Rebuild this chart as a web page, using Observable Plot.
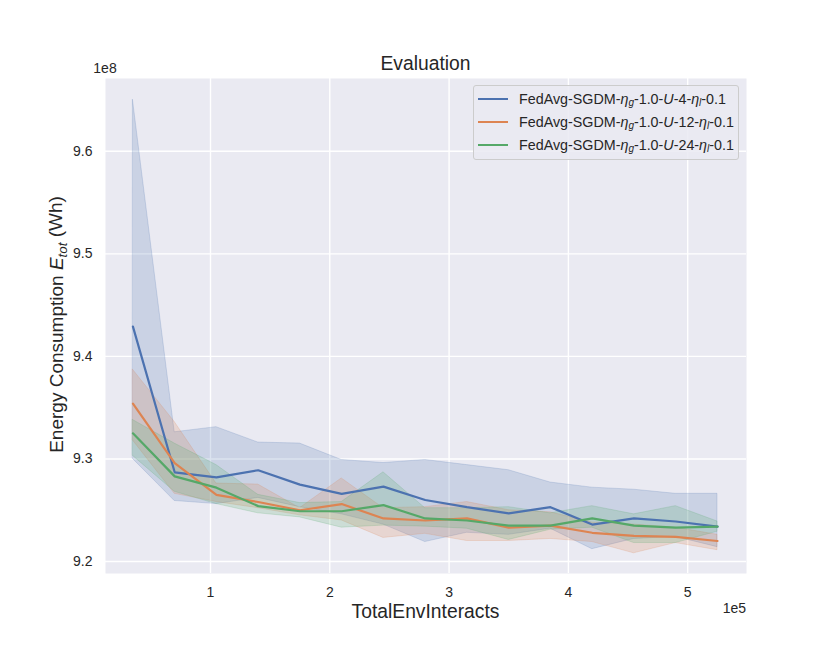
<!DOCTYPE html>
<html>
<head>
<meta charset="utf-8">
<script src="https://cdn.jsdelivr.net/npm/d3@7"></script>
<script src="https://cdn.jsdelivr.net/npm/@observablehq/plot@0.6"></script>
<style>
  html, body { margin: 0; padding: 0; background: #ffffff; }
  #wrap { position: relative; width: 830px; height: 646px; font-family: "Liberation Sans", Arial, sans-serif; color: #262626; }
  #legend { position: absolute; left: 473px; top: 85px; width: 266px; height: 75px; box-sizing: border-box;
    border: 1px solid #cccccc; border-radius: 3px; background: rgba(234,234,242,0.85); font-size: 14.3px; }
  .entry { position: absolute; left: 0; height: 20px; width: 100%; }
  .entry .sw { position: absolute; left: 4px; width: 30px; top: 10px; height: 0; border-top: 2px solid; }
  .entry .lb { position: absolute; left: 45px; top: 1px; white-space: nowrap; line-height: 20px; }
  .entry sub { font-size: 10px; vertical-align: -2px; line-height: 0; }
</style>
</head>
<body>
<div id="wrap"></div>
<script>
// x values in units of 1e5 TotalEnvInteracts
const xs = [0.35, 0.7, 1.05, 1.4, 1.75, 2.1, 2.45, 2.8, 3.15, 3.5, 3.85, 4.2, 4.55, 4.9, 5.25];

// y values in units of 1e8 Wh
const seriesNames = ["U-4", "U-12", "U-24"];
const seriesColors = ["#4C72B0", "#DD8452", "#55A868"];

const u4Mean = [9.429, 9.287, 9.282, 9.289, 9.275, 9.266, 9.273, 9.260, 9.253, 9.247, 9.253, 9.236, 9.242, 9.239, 9.234];
const u4Hi   = [9.650, 9.326, 9.331, 9.316, 9.315, 9.299, 9.296, 9.299, 9.294, 9.289, 9.277, 9.272, 9.270, 9.266, 9.266];
const u4Lo   = [9.300, 9.259, 9.256, 9.262, 9.253, 9.246, 9.236, 9.219, 9.228, 9.226, 9.232, 9.212, 9.222, 9.224, 9.214];

const u12Mean = [9.354, 9.296, 9.265, 9.258, 9.250, 9.256, 9.242, 9.240, 9.242, 9.233, 9.235, 9.228, 9.225, 9.224, 9.220];
const u12Hi   = [9.387, 9.336, 9.276, 9.275, 9.252, 9.281, 9.252, 9.253, 9.258, 9.250, 9.248, 9.238, 9.236, 9.233, 9.226];
const u12Lo   = [9.318, 9.266, 9.258, 9.252, 9.245, 9.240, 9.223, 9.227, 9.220, 9.220, 9.222, 9.219, 9.208, 9.218, 9.211];

const u24Mean = [9.325, 9.283, 9.272, 9.254, 9.249, 9.249, 9.255, 9.242, 9.240, 9.235, 9.235, 9.242, 9.235, 9.233, 9.234];
const u24Hi   = [9.338, 9.315, 9.294, 9.265, 9.257, 9.258, 9.287, 9.252, 9.252, 9.253, 9.247, 9.254, 9.246, 9.254, 9.239];
const u24Lo   = [9.303, 9.268, 9.256, 9.247, 9.243, 9.233, 9.235, 9.234, 9.232, 9.221, 9.231, 9.233, 9.218, 9.218, 9.229];

const xTicks = [1, 2, 3, 4, 5];
const yTicks = [9.2, 9.3, 9.4, 9.5, 9.6];

const means = [u4Mean, u12Mean, u24Mean];
const his = [u4Hi, u12Hi, u24Hi];
const los = [u4Lo, u12Lo, u24Lo];

const rows = [];
seriesNames.forEach((s, i) => {
  xs.forEach((x, j) => rows.push({ series: s, x, mean: means[i][j], hi: his[i][j], lo: los[i][j] }));
});

const W = 830, H = 646;
const mL = 105, mR = 84, mT = 78, mB = 73;

const chart = Plot.plot({
  width: W, height: H,
  marginLeft: mL, marginRight: mR, marginTop: mT, marginBottom: mB,
  style: { background: "transparent", fontFamily: "'Liberation Sans', Arial, sans-serif", color: "#262626", overflow: "visible" },
  x: { domain: [0.12, 5.493] },
  y: { domain: [9.1883, 9.671] },
  color: { domain: seriesNames, range: seriesColors },
  marks: [
    Plot.frame({ fill: "#EAEAF2", stroke: null }),
    Plot.gridX({ ticks: xTicks, stroke: "#ffffff", strokeOpacity: 1, strokeWidth: 1.4 }),
    Plot.gridY({ ticks: yTicks, stroke: "#ffffff", strokeOpacity: 1, strokeWidth: 1.4 }),
    Plot.areaY(rows, { x: "x", y1: "lo", y2: "hi", z: "series", fill: "series", fillOpacity: 0.2,
      stroke: "series", strokeOpacity: 0.2, strokeWidth: 1 }),
    Plot.lineY(rows, { x: "x", y: "mean", z: "series", stroke: "series", strokeWidth: 2.2 }),
    Plot.axisX({ ticks: xTicks, tickSize: 0, tickPadding: 14, fontSize: 14, label: null, tickFormat: d => String(d) }),
    Plot.axisY({ ticks: yTicks, tickSize: 0, tickPadding: 13, fontSize: 14, label: null, tickFormat: d3.format(".1f") })
  ]
});

const wrap = document.getElementById("wrap");
wrap.appendChild(chart);

const svg = d3.select(chart);
const cx = mL + (W - mL - mR) / 2;
const cy = mT + (H - mT - mB) / 2;

svg.append("text").attr("x", cx).attr("y", 70).attr("text-anchor", "middle")
  .attr("font-size", 19.3).attr("fill", "#262626").text("Evaluation");
svg.append("text").attr("x", mL).attr("y", 73).attr("font-size", 14).attr("fill", "#262626").text("1e8");
svg.append("text").attr("x", W - mR).attr("y", 613).attr("text-anchor", "end")
  .attr("font-size", 14).attr("fill", "#262626").text("1e5");
svg.append("text").attr("x", cx).attr("y", 618).attr("text-anchor", "middle")
  .attr("font-size", 19.3).attr("fill", "#262626").text("TotalEnvInteracts");

const yl = svg.append("text").attr("transform", `translate(62.5,${cy - 1}) rotate(-90)`)
  .attr("text-anchor", "middle").attr("font-size", 19).attr("fill", "#262626");
yl.append("tspan").text("Energy Consumption ");
yl.append("tspan").attr("font-style", "italic").text("E");
yl.append("tspan").attr("font-style", "italic").attr("font-size", 13.3).attr("dy", "0.3em").text("tot");
yl.append("tspan").attr("dy", "-0.22em").text(" (Wh)");

// Legend
const legendLabels = [
  "FedAvg-SGDM-<i>η</i><sub><i>g</i></sub>-1.0-<i>U</i>-4-<i>η</i><sub><i>l</i></sub>-0.1",
  "FedAvg-SGDM-<i>η</i><sub><i>g</i></sub>-1.0-<i>U</i>-12-<i>η</i><sub><i>l</i></sub>-0.1",
  "FedAvg-SGDM-<i>η</i><sub><i>g</i></sub>-1.0-<i>U</i>-24-<i>η</i><sub><i>l</i></sub>-0.1"
];
const legend = document.createElement("div");
legend.id = "legend";
legendLabels.forEach((lab, i) => {
  const e = document.createElement("div");
  e.className = "entry";
  e.style.top = (1.5 + i * 23.3) + "px";
  e.innerHTML = `<div class="sw" style="border-color:${seriesColors[i]}"></div><div class="lb">${lab}</div>`;
  legend.appendChild(e);
});
wrap.appendChild(legend);
</script>
</body>
</html>
